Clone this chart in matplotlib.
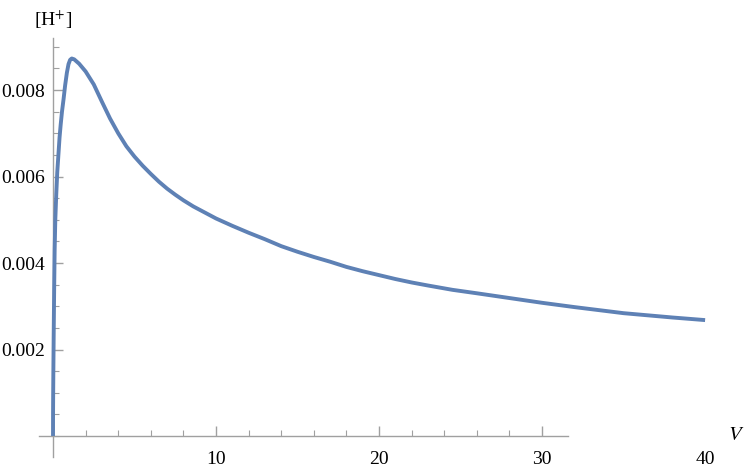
import matplotlib
matplotlib.use("Agg")
import matplotlib.pyplot as plt
from matplotlib.ticker import MultipleLocator, FixedLocator

# 數據
V = [0, 0.002, 0.005, 0.01, 0.02, 0.04, 0.07, 0.1, 0.14, 0.2, 0.26, 0.33,
     0.4, 0.47, 0.55, 0.65, 0.74, 0.85, 0.95, 1.05, 1.15, 1.3, 1.6, 2.0,
     2.5, 3.0, 3.5, 4.0, 4.5, 5.0, 5.5, 6.0, 6.5, 7.0, 7.5, 8.0, 8.6, 9.3,
     10, 11, 12, 13, 14, 15, 16, 17, 18, 19, 20, 21, 22, 23, 24.5, 26, 28,
     30, 32, 35, 38, 40]
H = [0, 0.0005, 0.0007, 0.0010, 0.00146, 0.0023, 0.0034, 0.0043, 0.0050,
     0.0056, 0.0061, 0.0065, 0.0069, 0.0072, 0.0075, 0.0078, 0.0081,
     0.0084, 0.0086, 0.0087, 0.00873, 0.00871, 0.00861, 0.00843, 0.00813,
     0.00773, 0.00734, 0.00700, 0.00670, 0.00646, 0.00625, 0.00606,
     0.00588, 0.00572, 0.00558, 0.00545, 0.00531, 0.00517, 0.00503,
     0.00486, 0.00470, 0.00455, 0.00439, 0.00426, 0.00414, 0.00403,
     0.00391, 0.00381, 0.00372, 0.00363, 0.00355, 0.00348, 0.00338,
     0.00330, 0.00319, 0.00308, 0.00298, 0.00284, 0.00274, 0.00268]

x_major = [10, 20, 30, 40]
y_major = [0.002, 0.004, 0.006, 0.008]

plt.rcParams['font.family'] = 'serif'
plt.rcParams['font.serif'] = ['Liberation Serif', 'DejaVu Serif']
plt.rcParams['mathtext.fontset'] = 'stix'

fig = plt.figure(figsize=(7.5, 4.69), dpi=100)
ax = fig.add_axes([0.052, 0.0256, 0.899, 0.893])

ax.plot(V, H, color='#5E81B5', lw=2.8, solid_capstyle='butt',
        solid_joinstyle='round', clip_on=False, zorder=3)

ax.set_xlim(-0.86, 40.5)
ax.set_ylim(-0.000486, 0.0092)

axis_gray = '#a0a0a0'
for s in ['top', 'right']:
    ax.spines[s].set_visible(False)
ax.spines['left'].set_position(('data', 0))
ax.spines['bottom'].set_position(('data', 0))
ax.spines['bottom'].set_bounds(-0.86, 31.6)
for s in ['left', 'bottom']:
    ax.spines[s].set_color(axis_gray)
    ax.spines[s].set_linewidth(1.0)

ax.xaxis.set_major_locator(FixedLocator(x_major))
ax.xaxis.set_minor_locator(FixedLocator([2, 4, 6, 8, 12, 14, 16, 18, 22, 24, 26, 28]))
ax.yaxis.set_major_locator(FixedLocator(y_major))
ax.yaxis.set_minor_locator(MultipleLocator(0.0005))

ax.tick_params(which='major', direction='in', length=7, width=1.0, color=axis_gray,
               labelsize=14, labelcolor='black')
ax.tick_params(which='minor', direction='in', length=4, width=0.8, color=axis_gray)
ax.tick_params(axis='x', pad=11)
ax.tick_params(axis='y', pad=6)
ax.set_xticklabels(['10', '20', '30', '40'])
ax.set_yticklabels(['0.002', '0.004', '0.006', '0.008'])

# 40 處沒有刻度線
for t in ax.xaxis.get_major_ticks():
    if abs(t.get_loc() - 40) < 1e-9:
        t.tick1line.set_visible(False)

ax.text(0, 1.045, '[H$^{+}$]', transform=ax.get_xaxis_transform(),
        ha='center', va='center', fontsize=14)
ax.text(41.9, 0.0, '$V$', ha='center', va='center', fontsize=15)

fig.savefig('out.png', dpi=100)
